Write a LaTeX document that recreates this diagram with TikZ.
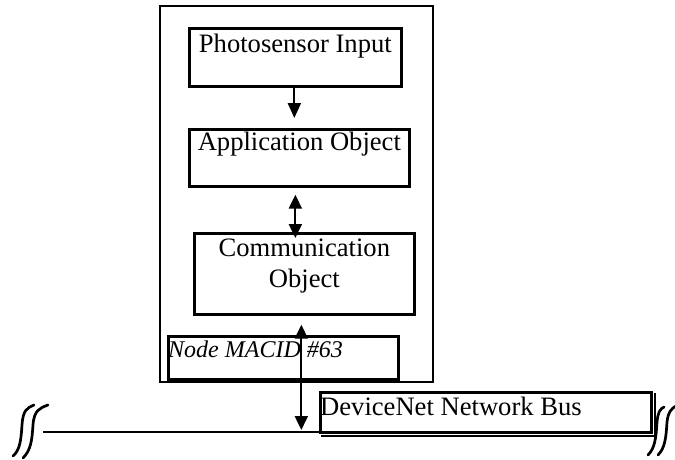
\documentclass[tikz,border=0pt]{standalone}
\usepackage{fontspec}
\setmainfont{Liberation Serif}
\usetikzlibrary{arrows.meta,calc}
\begin{document}
\begin{tikzpicture}[x=1pt,y=-1pt,
  box/.style={draw, line width=2.7pt, inner sep=0pt, anchor=north west},
  lbl/.style={inner sep=0pt, font=\fontsize{26.6}{31}\selectfont},
  ilbl/.style={inner sep=0pt, font=\fontsize{24}{28}\selectfont\itshape},
  arr/.style={line width=2.2pt, -{Triangle[length=15pt,width=13pt]}},
  darr/.style={line width=2.2pt, {Triangle[length=14pt,width=13pt]}-{Triangle[length=14pt,width=13pt]}},
  brk/.style={line width=2.7pt, line cap=round}]
\useasboundingbox (0,0) rectangle (675,459);
% outer device box
\node[box, line width=2.3pt, minimum width=273pt, minimum height=376pt] (outer) at (159,5) {};
% inner boxes
\node[box, minimum width=212pt, minimum height=58pt] (photo) at (188,27) {};
\node[box, minimum width=220pt, minimum height=57pt] (app) at (188,128) {};
\node[box, minimum width=220pt, minimum height=81pt] (comm) at (193,232) {};
\node[box, minimum width=230pt, minimum height=43pt] (macid) at (167,335) {};
\node[box, minimum width=331pt, minimum height=40pt] (dnet) at (319,391) {};
\draw[line width=2pt] ($(dnet.north east)+(2,2)$) -- ($(dnet.south east)+(2,2)$) -- ($(dnet.south west)+(2,2)$);
% texts
\node[lbl, anchor=base] (tphoto) at ($(photo.north)+(0,25)$) {Photosensor Input};
\node[lbl, anchor=base] (tapp) at ($(app.north)+(0,22)$) {Application Object};
\node[lbl, anchor=north, align=center] (tcomm) at ($(comm.north)+(0,7)$) {Communication\\Object};
\node[ilbl, anchor=base west] (tmacid) at (168,357) {Node MACID \#63};
\node[lbl, anchor=base west] (tdnet) at (320,415) {DeviceNet Network Bus};
% bus line
\coordinate (busL) at (43,432);
\coordinate (busR) at (651,432);
\draw[line width=2.3pt] (busL) -- (busR);
% connectors
\draw[arr, shorten >=10pt] ($(photo.south)+(-1,0)$) -- ($(photo.south |- app.north)+(-1,0)$);
\coordinate (a1) at ($(app.south)+(-4,0)$);
\draw[darr, shorten <=7pt, shorten >=-6pt] (a1) -- (a1 |- comm.north);
\coordinate (c1) at ($(comm.south)+(-3,0)$);
\draw[darr, shorten <=9pt, shorten >=2pt] (c1) -- (c1 |- busL);
% break marks left
\draw[brk] (13,456) .. controls (20,450) and (21,440) .. (22,425) .. controls (23,410) and (27,408) .. (34,405);
\draw[brk] (23,458) .. controls (31,450) and (32,440) .. (33,425) .. controls (34,410) and (40,408) .. (48,405);
% break marks right
\draw[brk] (648,455) .. controls (655,448) and (656,438) .. (657,422) .. controls (658,412) and (660,409) .. (664,407);
\draw[brk] (658,455) .. controls (665,448) and (666,438) .. (667,422) .. controls (668,412) and (672,408) .. (676,406);
\end{tikzpicture}
\end{document}
